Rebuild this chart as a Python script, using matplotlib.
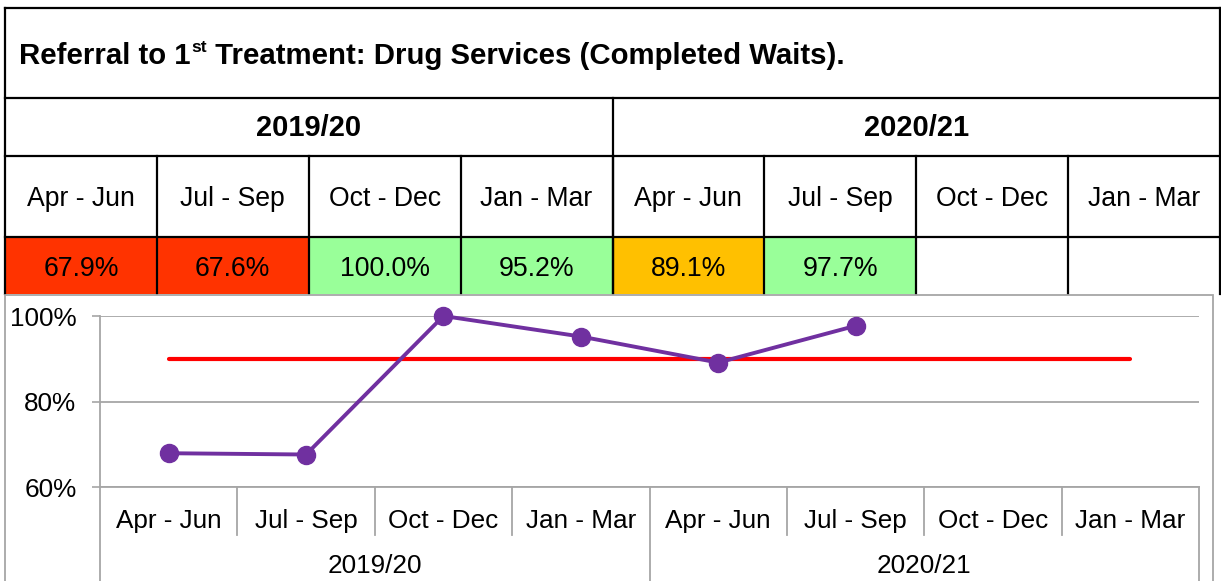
"""
Referral to 1st Treatment: Drug Services (Completed Waits).
RAG table across the top, quarterly trend line vs 90% target underneath.
"""

import numpy as np
import matplotlib
matplotlib.use("Agg")
import matplotlib.pyplot as plt
import matplotlib.patches as mpatches
import matplotlib.transforms as mtransforms

# ── Data ──────────────────────────────────────────────────────────────────────
years    = ["2019/20", "2020/21"]
quarters = ["Apr - Jun", "Jul - Sep", "Oct - Dec", "Jan - Mar",
            "Apr - Jun", "Jul - Sep", "Oct - Dec", "Jan - Mar"]
values   = [67.9, 67.6, 100.0, 95.2, 89.1, 97.7, None, None]   # % completed waits
target   = [90, 90, 90, 90, 90, 90, 90, 90]
y_ticks  = [60, 80, 100]

# ── Colours ───────────────────────────────────────────────────────────────────
RED    = "#FF3300"
AMBER  = "#FFC000"
GREEN  = "#99FF99"
PURPLE = "#7030A0"
TARGET = "#FF0000"
GRID   = "#A6A6A6"
FONT   = "Liberation Sans"

CELL_FS  = 19.2
TITLE_FS = 21.2
YEAR_FS  = 21
AXIS_FS  = 18.8

plt.rcParams["font.family"] = [FONT, "DejaVu Sans"]

W, H = 1221, 581
fig = plt.figure(figsize=(W / 100, H / 100), dpi=100, facecolor="white")

# background axes in pixel coords (y down) for the table
bg = fig.add_axes([0, 0, 1, 1])
bg.set_xlim(0, W)
bg.set_ylim(H, 0)
bg.axis("off")


def rag(v):
    if v is None:
        return "white"
    if v >= 90:
        return GREEN
    if v >= 80:
        return AMBER
    return RED


# ── Table ─────────────────────────────────────────────────────────────────────
col_x = np.linspace(5, 1220, len(quarters) + 1)
row_y = [8, 98, 156, 237, 294]
LW = 1.6

# value cell fills
for i, v in enumerate(values):
    bg.add_patch(mpatches.Rectangle((col_x[i], row_y[3]), col_x[i + 1] - col_x[i],
                                    row_y[4] - row_y[3], facecolor=rag(v),
                                    edgecolor="none", zorder=1))
    if v is not None:
        bg.text((col_x[i] + col_x[i + 1]) / 2, (row_y[3] + row_y[4]) / 2 + 3,
                f"{v:.1f}%", ha="center", va="center", fontsize=CELL_FS, zorder=3)

# quarter labels
for i, q in enumerate(quarters):
    bg.text((col_x[i] + col_x[i + 1]) / 2, (row_y[2] + row_y[3]) / 2 + 3, q,
            ha="center", va="center", fontsize=CELL_FS, zorder=3)

# year labels
for k, yr in enumerate(years):
    x0, x1 = col_x[4 * k], col_x[4 * k + 4]
    bg.text((x0 + x1) / 2, (row_y[1] + row_y[2]) / 2 + 1, yr,
            ha="center", va="center", fontsize=YEAR_FS, fontweight="bold", zorder=3)

# grid lines of the table
for y in row_y[:4]:
    bg.plot([col_x[0], col_x[-1]], [y, y], color="black", lw=LW, zorder=2,
            solid_capstyle="projecting")
bg.plot([col_x[0]] * 2, [row_y[0], row_y[4]], color="black", lw=LW, zorder=2)
bg.plot([col_x[-1]] * 2, [row_y[0], row_y[4]], color="black", lw=LW, zorder=2)
bg.plot([col_x[4]] * 2, [row_y[1], row_y[4]], color="black", lw=LW, zorder=2)
for x in col_x[1:-1]:
    bg.plot([x, x], [row_y[2], row_y[4]], color="black", lw=LW, zorder=2)

# title with superscript "st"
renderer = fig.canvas.get_renderer()
inv = bg.transData.inverted()
title_y = 56
t1 = bg.text(19, title_y, "Referral to 1", ha="left", va="center",
             fontsize=TITLE_FS, fontweight="bold", zorder=3)
x_end = inv.transform(t1.get_window_extent(renderer).get_points())[1][0]
t2 = bg.text(x_end + 1, title_y - 9, "st", ha="left", va="center",
             fontsize=12.5, fontweight="bold", zorder=3)
x_end = inv.transform(t2.get_window_extent(renderer).get_points())[1][0]
bg.text(x_end, title_y, " Treatment: Drug Services (Completed Waits).",
        ha="left", va="center", fontsize=TITLE_FS, fontweight="bold", zorder=3)

# chart frame (covers the bottom edge of the table)
bg.add_patch(mpatches.Rectangle((5, 295), 1208, 300, facecolor="white",
                                edgecolor=GRID, lw=1.3, zorder=5))

# ── Chart ─────────────────────────────────────────────────────────────────────
ax = fig.add_axes([100 / W, (H - 487) / H, 1099 / W, 171 / H])
ax.set_facecolor("none")
x = np.arange(len(quarters))
vals = np.array([np.nan if v is None else v for v in values], dtype=float)

ax.plot(x, target, color=TARGET, lw=3, zorder=3, solid_capstyle="round")
ax.plot(x, vals, color=PURPLE, lw=2.8, marker="o", markersize=13,
        zorder=4, clip_on=False)

ax.set_xlim(-0.5, len(quarters) - 0.5)
ax.set_ylim(60, 100)
ax.set_yticks(y_ticks)
ax.set_yticklabels([f"{t}%" for t in y_ticks], fontsize=AXIS_FS)
ax.tick_params(axis="y", length=6, width=1.2, color=GRID, pad=11)
ax.yaxis.grid(True, color=GRID, lw=1.3, zorder=0)
ax.set_axisbelow(True)

ax.set_xticks(x)
ax.set_xticklabels(quarters, fontsize=AXIS_FS)
ax.tick_params(axis="x", length=0, pad=16)

for s in ("top", "right"):
    ax.spines[s].set_visible(False)
for s in ("left", "bottom"):
    ax.spines[s].set_color(GRID)
    ax.spines[s].set_linewidth(1.3)

# category separators below the axis
trans = mtransforms.blended_transform_factory(ax.transData, ax.transAxes)
for b in np.arange(0.5, len(quarters) - 1):
    long = b in (3.5,)
    ax.plot([b, b], [0, -0.65 if long else -0.28], color=GRID, lw=1.3,
            transform=trans, clip_on=False)
for b in (-0.5, len(quarters) - 0.5):
    ax.plot([b, b], [0, -0.65], color=GRID, lw=1.3, transform=trans, clip_on=False)

# year group labels
for k, yr in enumerate(years):
    ax.text(4 * k + 1.5, -0.46, yr, transform=trans, ha="center", va="center",
            fontsize=AXIS_FS)

fig.savefig("out.png", dpi=100, facecolor="white")
